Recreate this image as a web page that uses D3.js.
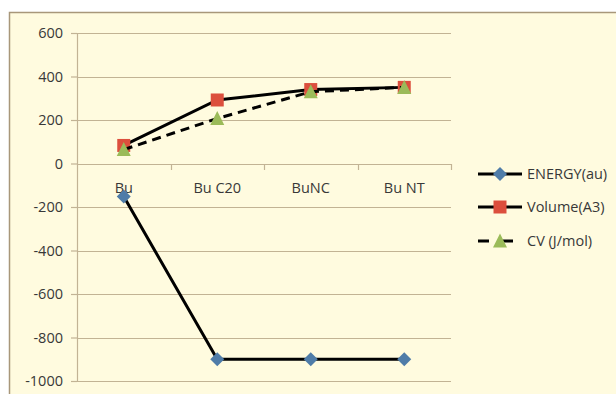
<!DOCTYPE html>
<html>
<head>
<meta charset="utf-8">
<script src="https://cdn.jsdelivr.net/npm/d3@7"></script>
<style>
  html, body { margin: 0; padding: 0; background: #ffffff; }
  svg { display: block; }
  text { font-family: "Open Sans", "Liberation Sans", sans-serif; fill: #383838; }
</style>
</head>
<body>
<svg id="chart" width="616" height="394"></svg>
<script>
// Compounds along the category axis
const categories = ["Bu", "Bu C20", "BuNC", "Bu NT"];
// Series values per compound
const energy = [-152, -900, -900, -900];
const volume = [83, 292, 340, 350];
const cv = [64, 207, 330, 350];
// Value axis ticks
const yTicks = [600, 400, 200, 0, -200, -400, -600, -800, -1000];

const series = [
  { name: "ENERGY(au)", values: energy, color: "#4f7ca8", shape: "diamond", dash: null },
  { name: "Volume(A3)", values: volume, color: "#dc4f3d", shape: "square", dash: null },
  { name: "CV (J/mol)", values: cv, color: "#9bbb59", shape: "triangle", dash: "9,6" }
];

const svg = d3.select("#chart");

// Chart area with border
svg.append("rect")
  .attr("x", 9.5).attr("y", 12.5)
  .attr("width", 640).attr("height", 400)
  .attr("fill", "#fffbdf")
  .attr("stroke", "#a8977a")
  .attr("stroke-width", 1.5);

const plot = { left: 77, right: 451, top: 33, bottom: 381 };

const x = d3.scaleBand().domain(categories).range([plot.left, plot.right]);
const y = d3.scaleLinear().domain([-1000, 600]).range([plot.bottom, plot.top]);
const cx = c => x(c) + x.bandwidth() / 2;

// Value axis with small outer ticks; labels use a plain hyphen for negatives
const yAxis = d3.axisLeft(y).tickValues(yTicks).tickSize(6).tickPadding(8).tickFormat(d => String(d));
const gY = svg.append("g").attr("transform", `translate(${plot.left},0)`).call(yAxis);
gY.select(".domain").attr("stroke", "#c2b394").attr("stroke-width", 1.2).attr("d", `M0.5,${plot.top}V${plot.bottom}`);
gY.selectAll(".tick line").attr("stroke", "#c2b394").attr("stroke-width", 1.2);
gY.selectAll(".tick text").style("font-size", "14.5px").attr("fill", "#383838");

// Horizontal gridlines
svg.append("g").selectAll("line").data(yTicks).join("line")
  .attr("x1", plot.left).attr("x2", plot.right)
  .attr("y1", d => Math.round(y(d)) + 0.5).attr("y2", d => Math.round(y(d)) + 0.5)
  .attr("stroke", "#c2b394").attr("stroke-width", 1.2);

// Category axis crossing at zero
const xAxis = d3.axisBottom(x).tickSize(0).tickPadding(18);
const gX = svg.append("g").attr("transform", `translate(0,${Math.round(y(0)) + 0.5})`).call(xAxis);
gX.select(".domain").remove();
gX.selectAll(".tick text").style("font-size", "14.5px").attr("fill", "#383838");
svg.append("g").selectAll("line").data(categories).join("line")
  .attr("x1", (d, i) => Math.round(plot.left + x.bandwidth() * (i + 1)) + 0.5)
  .attr("x2", (d, i) => Math.round(plot.left + x.bandwidth() * (i + 1)) + 0.5)
  .attr("y1", Math.round(y(0))).attr("y2", Math.round(y(0)) + 6)
  .attr("stroke", "#c2b394").attr("stroke-width", 1.2);

const drawMarker = (g, shape, color, px, py) => {
  const p = g.append("path").attr("fill", color).attr("transform", `translate(${px},${py})`);
  if (shape === "diamond") p.attr("d", "M0,-7L7,0L0,7L-7,0Z");
  else if (shape === "square") p.attr("d", "M-6.5,-6.5H6.5V6.5H-6.5Z");
  else p.attr("d", "M0,-7.5L7,6.5H-7Z");
};

const line = d3.line().x((d, i) => cx(categories[i])).y(d => y(d));

series.forEach(s => {
  const g = svg.append("g");
  g.append("path")
    .attr("d", line(s.values))
    .attr("fill", "none")
    .attr("stroke", "#000")
    .attr("stroke-width", 3)
    .attr("stroke-dasharray", s.dash);
  s.values.forEach((v, i) => drawMarker(g, s.shape, s.color, cx(categories[i]), y(v)));
});

// Legend
const legend = svg.append("g");
const rowY = [174, 207, 241];
series.forEach((s, i) => {
  const g = legend.append("g").attr("transform", `translate(0,${rowY[i]})`);
  g.append("line").attr("x1", 478).attr("x2", s.dash ? 513 : 522).attr("y1", 0).attr("y2", 0)
    .attr("stroke", "#000").attr("stroke-width", 3)
    .attr("stroke-dasharray", s.dash ? "11,13" : null);
  drawMarker(g, s.shape, s.color, 500, 0);
  g.append("text").attr("x", 527).attr("y", 0).attr("dy", "0.35em")
    .style("font-size", "14.5px").text(s.name);
});
</script>
</body>
</html>
